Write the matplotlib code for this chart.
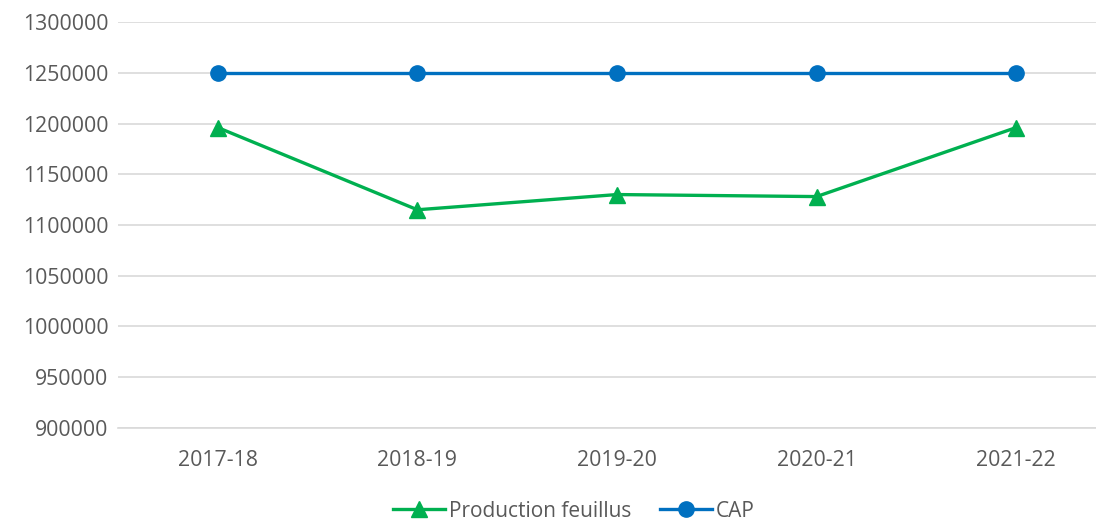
import matplotlib
matplotlib.use('Agg')
import matplotlib.pyplot as plt
from matplotlib.ticker import StrMethodFormatter

seasons = ['2017-18', '2018-19', '2019-20', '2020-21', '2021-22']
production = [1196000, 1115000, 1130000, 1128000, 1196000]
cap = [1250000, 1250000, 1250000, 1250000, 1250000]

plt.rcParams['font.family'] = ['Open Sans', 'DejaVu Sans']
txt = '#595959'

fig = plt.figure(figsize=(10.96, 5.23), dpi=100)
ax = fig.add_axes([118 / 1096, 1 - 428 / 523, (1096 - 118) / 1096, (428 - 22) / 523])

x = range(len(seasons))
ax.plot(x, production, color='#00B050', lw=2.4, marker='^', ms=11, label='Production feuillus', clip_on=False)
ax.plot(x, cap, color='#0070C0', lw=2.4, marker='o', ms=11, label='CAP', clip_on=False)

ax.set_xlim(-0.5, 4.4)
ax.set_ylim(900000, 1300000)
ax.set_yticks(range(900000, 1300001, 50000))
ax.yaxis.set_major_formatter(StrMethodFormatter('{x:.0f}'))
ax.set_xticks(list(x))
ax.set_xticklabels(seasons)
ax.grid(axis='y', color='#D9D9D9', lw=1.2)
ax.set_axisbelow(True)
for s in ['top', 'right', 'left']:
    ax.spines[s].set_visible(False)
ax.spines['bottom'].set_color('#D9D9D9')
ax.spines['bottom'].set_linewidth(1.2)
ax.tick_params(axis='both', length=0, labelsize=15.3, colors=txt)
ax.tick_params(axis='x', pad=16)
ax.tick_params(axis='y', pad=7)

leg = ax.legend(loc='center', bbox_to_anchor=(0.466, -0.205), ncol=2, frameon=False,
                fontsize=15, handlelength=2.5, columnspacing=1.4, handletextpad=0.15)
for t in leg.get_texts():
    t.set_color(txt)

fig.savefig('out.png', dpi=100)
